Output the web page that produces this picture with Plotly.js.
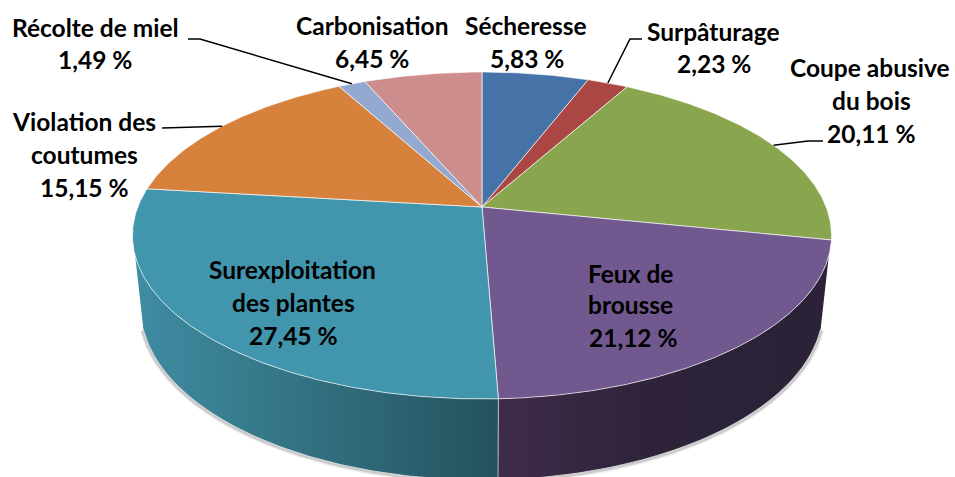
<!DOCTYPE html>
<html><head><meta charset="utf-8">
<script src="https://cdn.plot.ly/plotly-3.0.1.min.js"></script>
<style>html,body{margin:0;padding:0;background:#fff;overflow:hidden}#c{width:955px;height:477px}</style>
</head><body><div id="c"></div>
<script>
// Data: clockwise from 12 o'clock
const categories = ["Sécheresse","Surpâturage","Coupe abusive du bois","Feux de brousse","Surexploitation des plantes","Violation des coutumes","Récolte de miel","Carbonisation"];
const values = [5.83,2.23,20.11,21.12,27.45,15.15,1.49,6.45];
const colors = ["#4572A7","#AA4643","#89A54E","#71588F","#4195AD","#D6813C","#93A9CF","#CE8D8D"];
const labelLines = [["Sécheresse","5,83 %"],["Surpâturage","2,23 %"],["Coupe abusive","du bois","20,11 %"],["Feux de","brousse","21,12 %"],["Surexploitation","des plantes","27,45 %"],["Violation des","coutumes","15,15 %"],["Récolte de miel","1,49 %"],["Carbonisation","6,45 %"]];

// Layout: placement of the label lines (axis units = px) and leader elbows
const labelPos = [[[526,25],[527,58]],[[713.5,31],[714,63]],[[870,67],[871,100],[871,133]],[[630,273],[630,304],[633,337]],[[292,269],[293,302],[293,335]],[[84,121],[84,154],[84,187]],[[95,27],[95,59]],[[372,25],[372,58]]];
const leaders = {1:[[642,39],[630,39]],2:[[823,141],[808,141]],5:[[162,128]],6:[[188,39],[200,39]]};

// Perspective of the disc
const top_ = {x0:482,y0:207,a:344.2,b:158.5}, bot = {x0:482,y0:278,a:336,b:166.8}, k=0.1743;
const proj=(p,t)=>{const r=t*Math.PI/180,u=Math.sin(r),v=Math.cos(r),w=1+k*v;return [p.x0+p.a*u/w,p.y0-p.b*v/w];};
const arc=(p,t0,t1)=>{const n=Math.max(2,Math.ceil(Math.abs(t1-t0)*2)),o=[];for(let i=0;i<=n;i++)o.push(proj(p,t0+(t1-t0)*i/n));return o;};

const total=values.reduce((a,b)=>a+b,0);
const starts=[];let cum=0;values.forEach(v=>{starts.push(cum/total*360);cum+=v;});
const ends=values.map((v,i)=>starts[i]+v/total*360);

const traces=[];
const poly=(pts,extra)=>Object.assign({type:"scatter",mode:"lines",x:pts.map(p=>p[0]),y:pts.map(p=>p[1]),hoverinfo:"skip",showlegend:false},extra);

// Wall limits
const wallL=253, wallR=107;
// soft shadow under the wall
const shadowArc=[...arc(bot,wallR,wallL)];
[[6,0.04],[4,0.07],[2.5,0.1]].forEach(([w,o])=>{
  traces.push(poly(shadowArc.map(p=>[p[0]+(p[0]<482?-1:1),p[1]+1]),{line:{color:`rgba(0,0,0,${o})`,width:w}}));
});
// walls
const walls=[{i:3,from:wallR,to:ends[3],grad:[[0,"#3F2C4A"],[0.45,"#2E2339"],[1,"#2B2237"]]},{i:4,from:starts[4],to:wallL,grad:[[0,"#3F8CA3"],[0.5,"#32707F"],[1,"#23525E"]]}];
walls.forEach(w=>{
  const pts=[...arc(top_,w.from,w.to),...arc(bot,w.to,w.from)];pts.push(pts[0]);
  traces.push(poly(pts,{fill:"toself",fillcolor:w.grad[0][1],fillgradient:{type:"horizontal",colorscale:w.grad},line:{color:"rgba(255,255,255,0)",width:0},name:categories[w.i]+" (côté)"}));
});
// wall highlights
traces.push(poly(arc(bot,wallR,wallL),{line:{color:"rgba(225,225,225,0.8)",width:1}}));
traces.push(poly([proj(top_,ends[3]),proj(bot,ends[3])],{line:{color:"rgba(255,255,255,0.6)",width:1}}));
// top slices
values.forEach((v,i)=>{
  const pts=[[top_.x0,top_.y0],...arc(top_,starts[i],ends[i]),[top_.x0,top_.y0]];
  traces.push(poly(pts,{fill:"toself",fillcolor:colors[i],line:{color:"rgba(255,255,255,0.65)",width:1},name:categories[i]}));
});
// leaders end on the rim at each slice's mid-angle
Object.keys(leaders).forEach(i=>{
  const pts=[...leaders[i],proj(top_,(starts[i]+ends[i])/2)];
  traces.push(poly(pts,{line:{color:"#000",width:1.5}}));
});

const annotations=[];
labelLines.forEach((lines,i)=>lines.forEach((t,j)=>{
  annotations.push({xref:"x",yref:"y",x:labelPos[i][j][0],y:labelPos[i][j][1],text:t,showarrow:false,xanchor:"center",yanchor:"middle",
    font:{family:"Lato, 'Noto Sans', sans-serif",size:24.5,color:"#000",weight:700}});
}));

Plotly.newPlot("c",traces,{
  width:955,height:477,margin:{l:0,r:0,t:0,b:0},paper_bgcolor:"#fff",plot_bgcolor:"#fff",showlegend:false,
  xaxis:{range:[0,955],visible:false,fixedrange:true},
  yaxis:{range:[477,0],visible:false,fixedrange:true},
  annotations
},{staticPlot:true,displayModeBar:false});
</script></body></html>
